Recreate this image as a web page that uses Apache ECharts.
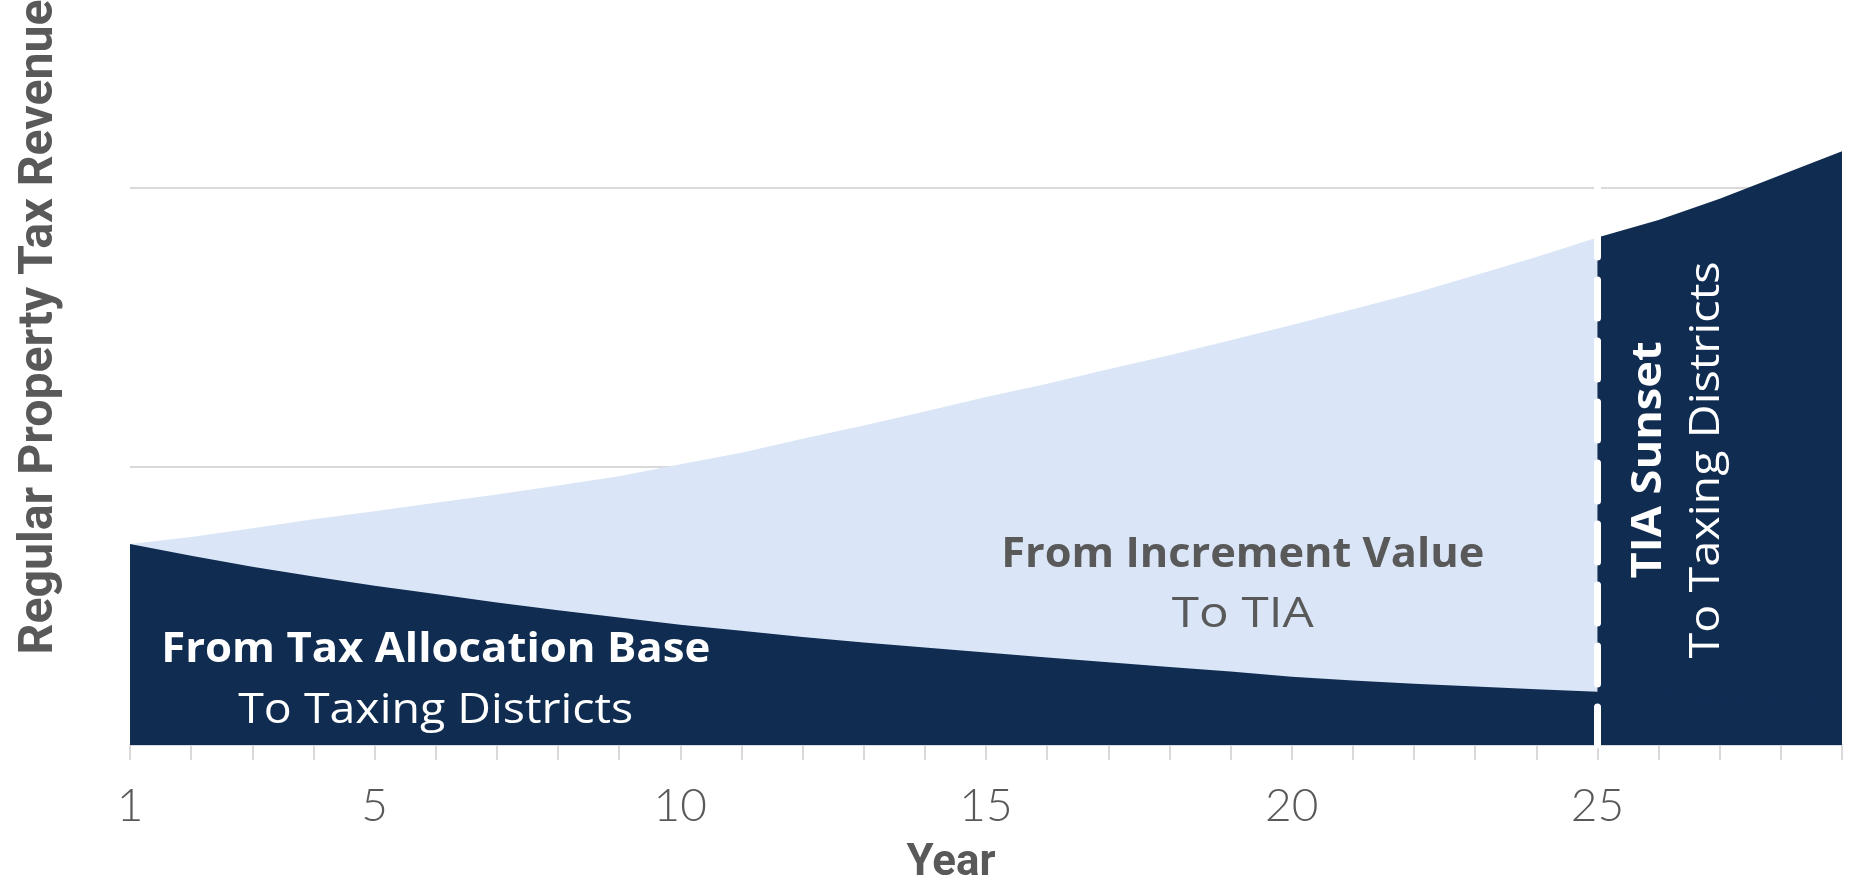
<!DOCTYPE html>
<html>
<head>
<meta charset="utf-8">
<script src="https://cdn.jsdelivr.net/npm/echarts@6/dist/echarts.min.js"></script>
<style>
html,body{margin:0;padding:0;background:#ffffff;}
#chart{width:1852px;height:888px;}
</style>
</head>
<body>
<div id="chart"></div>
<script>
// ---- Data ----
const years = [1,2,3,4,5,6,7,8,9,10,11,12,13,14,15,16,17,18,19,20,21,22,23,24,25,26,27,28,29];
const totalRevenue = [0.722,0.747,0.779,0.811,0.840,0.870,0.900,0.932,0.965,1.008,1.050,1.100,1.148,1.198,1.250,1.298,1.350,1.400,1.454,1.509,1.565,1.623,1.687,1.753,1.823,1.886,1.962,2.047,2.133];
const baseRevenue = [0.722,0.680,0.640,0.605,0.572,0.542,0.512,0.484,0.458,0.432,0.410,0.388,0.368,0.350,0.332,0.314,0.297,0.280,0.264,0.245,0.232,0.220,0.210,0.200,0.191,0.180,0.168,0.157,0.146];
const sunsetYear = 25;
const xTickLabels = [1,5,10,15,20,25];

const DARK = '#102C51';
const LIGHT = '#DAE6F7';
const GRAY = '#595959';
const LINE = '#D9D9D9';
const TITLE_FONT = 'Roboto, Lato, sans-serif';
const LABEL_FONT = '"Open Sans", Lato, sans-serif';

const incrementData = years.filter(y => y <= sunsetYear).map(y => [y, totalRevenue[years.indexOf(y)]]);
const sunsetData = years.filter(y => y >= sunsetYear).map(y => [y, totalRevenue[years.indexOf(y)]]);
const baseData = years.map((y, i) => [y, baseRevenue[i]]);

const chart = echarts.init(document.getElementById('chart'), null, {renderer: 'canvas'});

function areaSeries(name, data, color, extra) {
  return Object.assign({
    name, type: 'line', data,
    symbol: 'none', showSymbol: false, silent: true,
    lineStyle: {width: 0, color},
    itemStyle: {color},
    areaStyle: {color, opacity: 1},
    animation: false
  }, extra || {});
}

const option = {
  animation: false,
  backgroundColor: '#ffffff',
  grid: {left: 130, right: 10, top: 49, bottom: 143, containLabel: false, outerBoundsMode: 'none'},
  xAxis: {
    type: 'value', min: 1, max: 29, interval: 1,
    axisLine: {show: true, lineStyle: {color: LINE, width: 2}},
    axisTick: {show: true, length: 15, lineStyle: {color: LINE, width: 2}},
    axisLabel: {customValues: xTickLabels, fontSize: 46, fontWeight: 300, color: GRAY, margin: 38, fontFamily: 'Lato, sans-serif'},
    splitLine: {show: false}
  },
  yAxis: {
    type: 'value', min: 0, max: 2.5, interval: 1,
    axisLine: {show: false}, axisTick: {show: false}, axisLabel: {show: false},
    splitLine: {show: true, showMinLine: false, showMaxLine: false, lineStyle: {color: LINE, width: 2}}
  },
  series: [
    areaSeries('From Increment Value', incrementData, LIGHT),
    areaSeries('TIA Sunset', sunsetData, DARK),
    areaSeries('From Tax Allocation Base', baseData, DARK, {
      markLine: {
        silent: true, symbol: ['none', 'none'], animation: false,
        label: {show: false},
        lineStyle: {color: '#ffffff', width: 7, type: [38, 23], cap: 'round', opacity: 1},
        data: [{xAxis: sunsetYear}]
      }
    })
  ]
};
chart.setOption(option);

// text measuring helper (for fitting label widths)
const mctx = document.createElement('canvas').getContext('2d');
function measure(font, text) { mctx.font = font; return mctx.measureText(text).width; }

// Annotations: anchor in data coordinates, target width in px
const annotations = [
  {text: 'From Tax Allocation Base', at: [6.0, 0.341], bold: true, color: '#ffffff', width: 549},
  {text: 'To Taxing Districts', at: [6.0, 0.122], bold: false, color: '#ffffff', width: 395},
  {text: 'From Increment Value', at: [19.2, 0.682], bold: true, color: GRAY, width: 483},
  {text: 'To TIA', at: [19.2, 0.467], bold: false, color: GRAY, width: 142},
  {text: 'TIA Sunset', at: [25.85, 1.024], bold: true, color: '#ffffff', width: 237, vertical: true},
  {text: 'To Taxing Districts', at: [26.8, 1.024], bold: false, color: '#ffffff', width: 397, vertical: true}
];
const graphics = annotations.map(a => {
  const p = chart.convertToPixel({gridIndex: 0}, a.at);
  const weight = a.bold ? 'bold ' : 'normal ';
  const w = measure(weight + '42px ' + LABEL_FONT, a.text);
  const sx = a.width / w;
  return {
    type: 'text', x: p[0], y: p[1], rotation: a.vertical ? Math.PI / 2 : 0,
    scaleX: sx, scaleY: 1, z: 100, silent: true,
    style: {
      text: a.text, fill: a.color,
      font: weight + '42px ' + LABEL_FONT,
      textAlign: 'center', textVerticalAlign: 'middle'
    }
  };
});

// Axis titles (condensed bold look)
const yTitle = 'Regular Property Tax Revenue';
const yTitleFont = 'bold 48px ' + TITLE_FONT;
const yTitleScale = 655 / measure(yTitleFont, yTitle);
graphics.push({
  type: 'text', x: 40, y: 327, rotation: Math.PI / 2, scaleX: yTitleScale, scaleY: 1, silent: true, z: 100,
  style: {text: yTitle, fill: GRAY, font: yTitleFont, textAlign: 'center', textVerticalAlign: 'middle'}
});
const xTitle = 'Year';
const xTitleFont = 'bold 44px ' + TITLE_FONT;
const xTitleScale = 89 / measure(xTitleFont, xTitle);
graphics.push({
  type: 'text', x: 951, y: 864, scaleX: xTitleScale, scaleY: 1, silent: true, z: 100,
  style: {text: xTitle, fill: GRAY, font: xTitleFont, textAlign: 'center', textVerticalAlign: 'middle'}
});

chart.setOption({graphic: graphics});
</script>
</body>
</html>
